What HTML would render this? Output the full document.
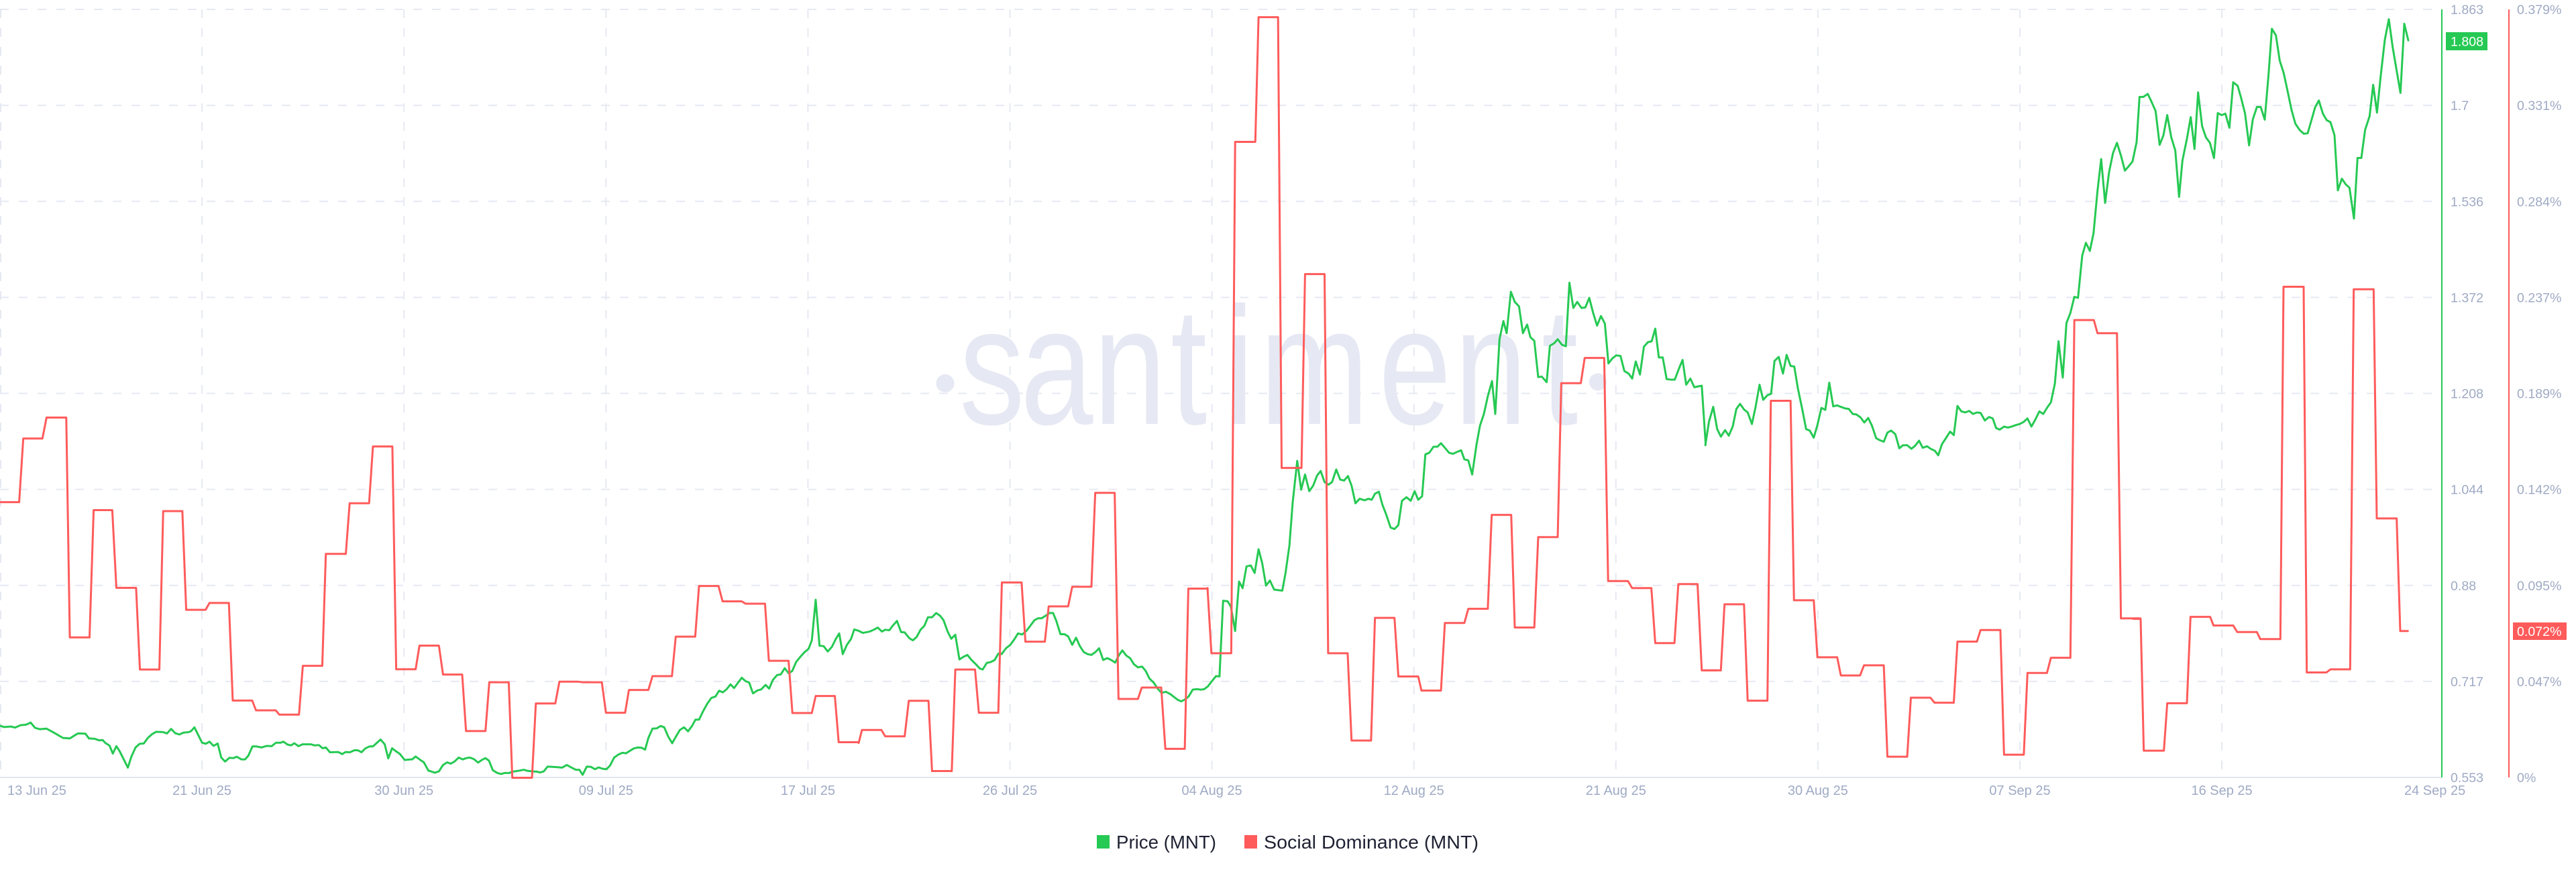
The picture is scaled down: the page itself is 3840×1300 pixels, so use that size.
<!DOCTYPE html>
<html>
<head>
<meta charset="utf-8">
<style>
  html, body { margin:0; padding:0; background:#ffffff; }
  body { width:3840px; height:1300px; overflow:hidden; }
  svg { display:block; font-family:"Liberation Sans", Arial, sans-serif; }
  .ax { font-size:19.6px; fill:#9faac4; }
  .dt { font-size:20px; fill:#9faac4; }
  .g { fill:none; stroke:#26c953; stroke-width:3; stroke-linejoin:round; stroke-linecap:round; }
  .r { fill:none; stroke:#ff5b5b; stroke-width:3; stroke-linejoin:round; stroke-linecap:round; }
  .grid { stroke:#e6e9f2; stroke-width:2; stroke-dasharray:13 15; fill:none; }
</style>
</head>
<body>
<svg width="3840" height="1300" viewBox="0 0 3840 1300" xmlns="http://www.w3.org/2000/svg">
  <rect x="0" y="0" width="3840" height="1300" fill="#ffffff"/>

  <!-- watermark -->
  <g fill="#e6e9f3">
    <circle cx="1409" cy="571.5" r="13.5"/>
    <circle cx="2382" cy="569.5" r="13"/>
    <g transform="scale(0.78,1)">
      <text y="632" font-size="250" font-family="Liberation Sans, Arial, sans-serif" x="1833.3 1950 2089.7 2237.2 2341 2407.7 2634.6 2779.5 2946.2">santiment</text>
    </g>
  </g>

  <!-- horizontal gridlines -->
  <g class="grid">
    <line x1="0" y1="14" x2="3640" y2="14"/>
    <line x1="0" y1="157.1" x2="3640" y2="157.1"/>
    <line x1="0" y1="300.3" x2="3640" y2="300.3"/>
    <line x1="0" y1="443.4" x2="3640" y2="443.4"/>
    <line x1="0" y1="586.5" x2="3640" y2="586.5"/>
    <line x1="0" y1="729.6" x2="3640" y2="729.6"/>
    <line x1="0" y1="872.8" x2="3640" y2="872.8"/>
    <line x1="0" y1="1015.9" x2="3640" y2="1015.9"/>
  </g>
  <!-- vertical gridlines -->
  <g class="grid">
    <line x1="1" y1="14" x2="1" y2="1159"/>
    <line x1="301.1" y1="14" x2="301.1" y2="1159"/>
    <line x1="602.2" y1="14" x2="602.2" y2="1159"/>
    <line x1="903.3" y1="14" x2="903.3" y2="1159"/>
    <line x1="1204.4" y1="14" x2="1204.4" y2="1159"/>
    <line x1="1505.5" y1="14" x2="1505.5" y2="1159"/>
    <line x1="1806.6" y1="14" x2="1806.6" y2="1159"/>
    <line x1="2107.7" y1="14" x2="2107.7" y2="1159"/>
    <line x1="2408.8" y1="14" x2="2408.8" y2="1159"/>
    <line x1="2709.9" y1="14" x2="2709.9" y2="1159"/>
    <line x1="3011" y1="14" x2="3011" y2="1159"/>
    <line x1="3312.1" y1="14" x2="3312.1" y2="1159"/>
  </g>

  <!-- bottom axis -->
  <line x1="0" y1="1159" x2="3640" y2="1159" stroke="#e3e6ef" stroke-width="2"/>

  <!-- PRICE (green) -->
  <g transform="translate(0,560) scale(0.408163,0.395413)">
    <polyline class="g" vector-effect="non-scaling-stroke" points="0,1320 15,1325 40,1323 55,1327 75,1318 95,1316 112,1308 128,1328 145,1333 170,1331 195,1345 230,1366 255,1368 270,1358 285,1349 312,1350 325,1368 345,1369 362,1375 375,1374 385,1385 400,1395 412,1425 425,1397 437,1416 467,1478 480,1436 495,1402 510,1388 525,1387 540,1366 555,1352 570,1343 595,1344 610,1349 625,1332 640,1348 655,1353 670,1346 690,1344 698,1340 710,1326 738,1384 752,1388 765,1380 780,1396 795,1387 808,1440 822,1455 838,1441 852,1442 865,1437 882,1447 895,1447 907,1433 922,1398 937,1398 955,1402 975,1396 992,1397 1008,1384 1025,1384 1035,1380 1050,1391 1063,1394 1075,1386 1090,1397 1105,1390 1135,1390 1148,1394 1165,1393 1178,1405 1190,1402 1205,1420 1235,1419 1250,1427 1262,1419 1278,1420 1295,1412 1308,1413 1320,1420 1335,1405 1350,1398 1362,1398 1390,1372 1405,1390 1418,1443 1432,1405 1447,1417 1460,1426 1478,1449 1500,1447 1505,1447 1518,1436 1535,1449 1548,1458 1565,1490 1568,1490"/>
  </g>
  <g transform="translate(640,560) scale(0.408163,0.395413)">
    <polyline class="g" vector-effect="non-scaling-stroke" points="0,1490 20,1497 35,1492 50,1468 65,1458 78,1463 92,1455 107,1440 122,1447 135,1442 148,1440 163,1446 178,1459 192,1449 205,1442 218,1452 232,1488 248,1498 262,1502 275,1498 292,1498 305,1493 325,1490 345,1486 358,1490 375,1492 392,1493 405,1496 418,1492 432,1474 450,1475 465,1476 485,1478 502,1468 518,1477 535,1486 548,1486 560,1505 575,1474 590,1475 605,1484 618,1477 632,1482 647,1484 660,1470 675,1440 690,1429 705,1422 718,1424 735,1413 748,1405 762,1402 775,1403 788,1410 800,1366 815,1331 830,1330 845,1321 858,1326 872,1360 887,1386 900,1362 915,1336 930,1326 945,1341 960,1320 972,1297 985,1297 1000,1265 1015,1237 1030,1215 1045,1210 1058,1188 1072,1194 1085,1183 1100,1164 1113,1178 1128,1157 1141,1139 1155,1152 1168,1157 1182,1198 1198,1187 1212,1183 1228,1166 1241,1180 1255,1147 1270,1129 1284,1126 1298,1103 1312,1122 1325,1114 1340,1079 1355,1060 1370,1043 1385,1030 1397,998 1411,845 1425,1018 1440,1020 1455,1040 1470,1023 1485,992 1497,972 1510,1050 1525,1015 1540,993 1552,957 1568,962"/>
  </g>
  <g transform="translate(1280,560) scale(0.408163,0.395413)">
    <polyline class="g" vector-effect="non-scaling-stroke" points="0,962 15,970 40,965 55,958 70,950 85,965 97,958 112,960 125,942 140,925 155,967 168,968 185,990 198,998 212,985 226,958 240,943 253,911 268,911 283,895 297,905 310,922 325,965 338,992 353,977 368,1070 383,1060 397,1053 412,1072 427,1087 442,1104 453,1108 468,1083 482,1080 497,1072 510,1048 522,1050 538,1028 553,1016 568,995 582,972 597,976 612,963 627,943 642,922 655,915 668,915 683,905 697,895 710,895 722,925 737,975 752,975 765,983 780,1015 794,988 808,1020 822,1042 836,1050 850,1053 865,1042 878,1028 893,1072 908,1065 922,1072 937,1082 950,1055 963,1036 977,1055 992,1066 1005,1088 1020,1100 1035,1097 1048,1113 1062,1142 1078,1158 1092,1180 1106,1196 1122,1192 1137,1200 1152,1212 1165,1222 1178,1228 1190,1222 1205,1210 1220,1184 1235,1182 1250,1184 1262,1182 1275,1172 1290,1152 1305,1133 1318,1134"/>
  </g>
  <g transform="translate(1800,0) scale(0.484731,0.752587)">
    <polyline class="g" vector-effect="non-scaling-stroke" points="37,1338 48,1190 62,1191 72,1202 85,1250 97,1152 108,1165 120,1122 133,1120 145,1135 157,1088 168,1115 180,1160 192,1150 205,1168 230,1170 240,1135 252,1080 262,995 276,913 288,970 300,940 313,973 325,962 337,942 348,933 360,955 372,960 383,955 396,930 408,950 420,952 432,943 443,962 455,997 468,988 483,991 495,988 505,990 515,978 527,974 538,1000 550,1020 563,1045 575,1048 587,1040 598,992 612,985 625,992 637,973 648,990 660,983 670,900 682,897 695,885 707,885 718,878 730,887 743,897 755,899 768,895 780,892 790,910 802,912 814,940 827,882 838,843 850,820 862,785 875,755 885,820 898,672 910,636 920,660 933,578 945,598 958,607 970,660 983,643 993,668 1005,675 1017,747 1028,746 1043,757 1053,685 1066,680 1077,672 1090,683 1102,686 1113,560 1125,610 1137,598 1150,610 1162,609 1174,590 1186,620 1198,645 1210,626 1222,641 1233,720 1245,710 1257,704 1270,705 1282,735 1295,740 1306,750 1317,716 1330,742 1342,687 1354,678 1366,676 1377,651 1388,708 1400,708 1412,751 1425,752 1437,752 1450,730 1461,713 1472,762 1485,750 1497,767 1520,764 1532,880"/>
  </g>
  <g transform="translate(2540,0) scale(0.420875,0.752587)">
    <polyline class="g" vector-effect="non-scaling-stroke" points="5,882 18,835 33,806 47,850 60,865 75,852 88,863 102,845 115,810 128,800 142,811 155,817 170,840 183,806 197,762 210,792 225,783 238,780 250,715 265,707 280,740 293,703 307,725 320,726 333,770 348,810 362,850 375,853 389,867 402,842 416,808 430,812 444,758 458,805 472,803 485,806 500,809 513,810 527,820 540,821 555,827 568,837 582,828 595,843 610,868 623,872 637,875 650,857 663,853 678,860 692,888 705,882 720,882 735,889 748,883 762,873 775,887 790,884 803,889 818,893 830,902 843,880 857,868 872,855 885,862 898,804 912,815 925,817 940,814 953,820 967,817 980,818 995,833 1010,826 1023,829 1035,848 1048,851 1063,845 1077,847 1090,845 1105,842 1118,840 1132,836 1146,829 1160,845 1173,832 1188,815 1202,820 1215,808 1229,797 1243,760 1256,676 1271,748 1284,640 1298,620 1312,588 1325,590 1340,506 1353,481 1367,497 1380,462 1394,378 1407,315 1421,402 1435,341 1449,303 1463,283 1477,308 1491,338 1505,329 1518,320 1532,283"/>
  </g>
  <g transform="translate(3180,0) scale(0.333333,0.752587)">
    <polyline class="g" vector-effect="non-scaling-stroke" points="15,282 28,192 45,192 65,186 80,200 100,220 118,287 135,268 152,228 170,272 188,298 205,390 220,318 240,275 257,232 274,295 290,183 308,250 325,272 343,283 361,313 378,224 395,228 412,225 430,253 447,163 467,170 483,195 500,225 518,288 535,236 553,212 570,212 588,237 605,148 620,57 638,70 655,120 673,145 690,180 708,218 725,245 745,258 763,265 780,264 797,238 813,213 830,199 848,225 865,238 882,242 900,268 915,377 933,354 950,365 967,372 987,433 1003,313 1020,313 1037,257 1057,230 1073,168 1090,223 1107,149 1125,79 1143,38 1160,93 1178,140 1195,184 1212,47 1230,80"/>
  </g>

  <!-- SOCIAL DOMINANCE (red) -->
  <g transform="translate(0,560) scale(0.408163,0.395413)">
    <polyline class="r" vector-effect="non-scaling-stroke" points="0,477 70,477 85,237 155,237 170,158 242,158 255,987 327,987 342,507 410,507 425,800 497,800 511,1108 582,1108 596,511 666,511 680,883 751,883 765,857 836,857 850,1225 921,1225 935,1262 1007,1262 1020,1278 1092,1278 1106,1094 1177,1094 1190,672 1263,672 1277,481 1348,481 1362,267 1433,267 1447,1107 1518,1107 1532,1018 1568,1018"/>
  </g>
  <g transform="translate(640,560) scale(0.408163,0.395413)">
    <polyline class="r" vector-effect="non-scaling-stroke" points="0,1018 35,1018 50,1127 120,1127 134,1340 205,1340 219,1156 290,1156 303,1516 375,1516 389,1236 460,1236 475,1154 545,1154 560,1156 630,1156 645,1271 715,1271 729,1185 800,1185 815,1133 886,1133 900,984 971,984 985,793 1056,793 1071,851 1141,851 1155,860 1226,860 1240,1075 1312,1075 1326,1272 1397,1272 1411,1208 1481,1208 1495,1382 1568,1382"/>
  </g>
  <g transform="translate(1280,560) scale(0.408163,0.395413)">
    <polyline class="r" vector-effect="non-scaling-stroke" points="0,1385 12,1336 83,1336 97,1360 168,1360 183,1226 255,1226 268,1491 340,1491 353,1108 425,1108 439,1271 510,1271 523,780 595,780 609,1003 680,1003 694,870 765,870 780,796 850,796 864,442 935,442 949,1219 1020,1219 1034,1176 1105,1176 1120,1407 1191,1407 1204,803 1275,803"/>
  </g>
  <g transform="translate(1800,0) scale(0.484731,0.752587)">
    <polyline class="r" vector-effect="non-scaling-stroke" points="0,1165 12,1294 73,1294 85,281 147,281 157,34 217,34 228,927 289,927 300,543 360,543 371,1294 431,1294 443,1467 503,1467 515,1224 575,1224 587,1340 648,1340 658,1368 718,1368 730,1234 790,1234 802,1206 862,1206 874,1020 934,1020 945,1243 1005,1243 1017,1064 1077,1064 1088,759 1148,759 1160,709 1220,709 1232,1151 1293,1151 1306,1165 1365,1165 1377,1274 1436,1274 1448,1157 1507,1157 1520,1328 1568,1328"/>
  </g>
  <g transform="translate(2540,0) scale(0.420875,0.752587)">
    <polyline class="r" vector-effect="non-scaling-stroke" points="0,1328 60,1328 73,1197 142,1197 155,1388 225,1388 237,794 307,794 319,1189 389,1189 402,1302 472,1302 485,1338 553,1338 567,1318 637,1318 650,1499 720,1499 733,1382 802,1382 817,1392 885,1392 898,1271 967,1271 980,1248 1050,1248 1063,1495 1133,1495 1146,1333 1215,1333 1229,1303 1298,1303 1312,634 1381,634 1394,660 1463,660 1477,1225 1546,1225"/>
  </g>
  <g transform="translate(3180,0) scale(0.333333,0.752587)">
    <polyline class="r" vector-effect="non-scaling-stroke" points="0,1226 33,1226 47,1487 137,1487 152,1393 240,1393 256,1222 344,1222 359,1239 447,1239 465,1252 553,1252 568,1266 658,1266 672,568 762,568 776,1332 864,1332 882,1326 970,1326 986,573 1075,573 1089,1027 1178,1027 1194,1250 1228,1250"/>
  </g>

  <!-- right axes -->
  <line x1="3640" y1="14" x2="3640" y2="1159" stroke="#26c953" stroke-width="2"/>
  <line x1="3740" y1="14" x2="3740" y2="1159" stroke="#ff5b5b" stroke-width="2"/>

  <g class="ax">
    <text x="3653" y="21">1.863</text>
    <text x="3653" y="164.1">1.7</text>
    <text x="3653" y="307.3">1.536</text>
    <text x="3653" y="450.4">1.372</text>
    <text x="3653" y="593.5">1.208</text>
    <text x="3653" y="736.6">1.044</text>
    <text x="3653" y="879.8">0.88</text>
    <text x="3653" y="1022.9">0.717</text>
    <text x="3653" y="1166">0.553</text>

    <text x="3752" y="21">0.379%</text>
    <text x="3752" y="164.1">0.331%</text>
    <text x="3752" y="307.3">0.284%</text>
    <text x="3752" y="450.4">0.237%</text>
    <text x="3752" y="593.5">0.189%</text>
    <text x="3752" y="736.6">0.142%</text>
    <text x="3752" y="879.8">0.095%</text>
    <text x="3752" y="1022.9">0.047%</text>
    <text x="3752" y="1166">0%</text>
  </g>

  <!-- value tags -->
  <rect x="3646" y="48" width="62" height="27" fill="#26c953"/>
  <text x="3653" y="68.5" class="ax" style="fill:#ffffff">1.808</text>
  <rect x="3746" y="928" width="80" height="26" fill="#ff5b5b"/>
  <text x="3752" y="948" class="ax" style="fill:#ffffff">0.072%</text>

  <!-- date labels -->
  <g class="dt">
    <text x="11" y="1185">13 Jun 25</text>
    <text x="301.1" y="1185" text-anchor="middle">21 Jun 25</text>
    <text x="602.2" y="1185" text-anchor="middle">30 Jun 25</text>
    <text x="903.3" y="1185" text-anchor="middle">09 Jul 25</text>
    <text x="1204.4" y="1185" text-anchor="middle">17 Jul 25</text>
    <text x="1505.5" y="1185" text-anchor="middle">26 Jul 25</text>
    <text x="1806.6" y="1185" text-anchor="middle">04 Aug 25</text>
    <text x="2107.7" y="1185" text-anchor="middle">12 Aug 25</text>
    <text x="2408.8" y="1185" text-anchor="middle">21 Aug 25</text>
    <text x="2709.9" y="1185" text-anchor="middle">30 Aug 25</text>
    <text x="3011" y="1185" text-anchor="middle">07 Sep 25</text>
    <text x="3312.1" y="1185" text-anchor="middle">16 Sep 25</text>
    <text x="3584" y="1185">24 Sep 25</text>
  </g>

  <!-- legend -->
  <rect x="1635" y="1245" width="19" height="20" fill="#26c953"/>
  <text x="1664" y="1265" font-size="28" fill="#1f2233" textLength="149" lengthAdjust="spacingAndGlyphs">Price (MNT)</text>
  <rect x="1855" y="1245" width="19" height="20" fill="#ff5b5b"/>
  <text x="1884" y="1265" font-size="28" fill="#1f2233" textLength="320" lengthAdjust="spacingAndGlyphs">Social Dominance (MNT)</text>
</svg>
</body>
</html>
